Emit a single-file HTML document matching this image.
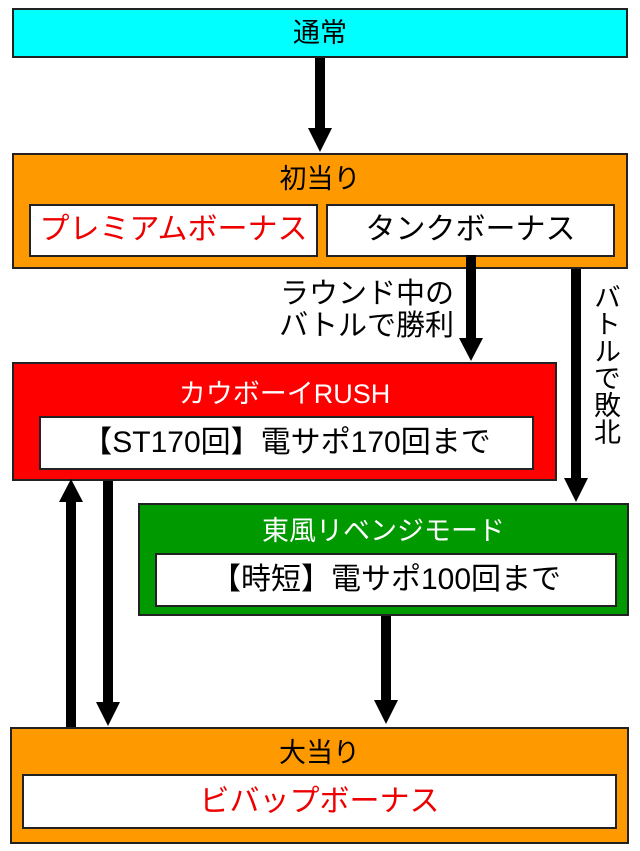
<!DOCTYPE html>
<html><head><meta charset="utf-8"><style>
body{margin:0;width:640px;height:851px;background:#fff;position:relative;overflow:hidden;font-family:"Liberation Sans","Noto Sans CJK JP",sans-serif;}
.b{position:absolute;box-sizing:border-box;border:2px solid #222;}
.t{position:absolute;left:0;right:0;text-align:center;font-size:27px;line-height:32px;}
.w{position:absolute;box-sizing:border-box;border:2px solid #222;background:#fff;text-align:center;font-size:30px;white-space:nowrap;}
svg{position:absolute;left:0;top:0}
</style></head><body>
<div class="b" style="left:12px;top:8px;width:616px;height:50px;background:#00ffff"><div class="t" style="top:7px">通常</div></div>
<div class="b" style="left:12px;top:153px;width:616px;height:116px;background:#ff9900">
 <div class="t" style="top:8px">初当り</div>
 <div class="w" style="left:15px;top:49px;width:289px;height:53px;line-height:48px;color:#e00">プレミアムボーナス</div>
 <div class="w" style="left:312px;top:49px;width:289px;height:53px;line-height:48px">タンクボーナス</div>
</div>
<div style="position:absolute;left:200px;top:278px;width:254px;text-align:right;font-size:29px;line-height:32px;white-space:nowrap">ラウンド中の<br>バトルで勝利</div>
<div style="position:absolute;left:589px;top:283px;width:32px;font-size:27px;line-height:32px;writing-mode:vertical-rl">バトルで敗北</div>
<div class="b" style="left:12px;top:362px;width:545px;height:119px;background:#ff0000">
 <div class="t" style="top:14px;color:#fff">カウボーイRUSH</div>
 <div class="w" style="left:25px;top:52px;width:495px;height:54px;line-height:50px">【ST170回】電サポ170回まで</div>
</div>
<div class="b" style="left:138px;top:503px;width:491px;height:113px;background:#009900">
 <div class="t" style="top:10px;color:#fff">東風リベンジモード</div>
 <div class="w" style="left:15px;top:48px;width:462px;height:54px;line-height:50px">【時短】電サポ100回まで</div>
</div>
<div class="b" style="left:10px;top:727px;width:619px;height:117px;background:#ff9900">
 <div class="t" style="top:8px">大当り</div>
 <div class="w" style="left:10px;top:45px;width:595px;height:55px;line-height:51px;color:#e00">ビバップボーナス</div>
</div>
<svg width="640" height="851">
<g fill="#000">
<rect x="315" y="58" width="10" height="72"/><polygon points="308,128 332,128 320,152"/>
<rect x="466" y="255" width="10" height="85"/><polygon points="459,338 483,338 471,361"/>
<rect x="571" y="269" width="10" height="210"/><polygon points="564,478 588,478 576,502"/>
<rect x="66" y="500" width="10" height="227"/><polygon points="59,502 83,502 71,479"/>
<rect x="103" y="481" width="10" height="222"/><polygon points="96,702 120,702 108,726"/>
<rect x="381" y="616" width="10" height="85"/><polygon points="374,700 398,700 386,724"/>
</g></svg>
</body></html>
